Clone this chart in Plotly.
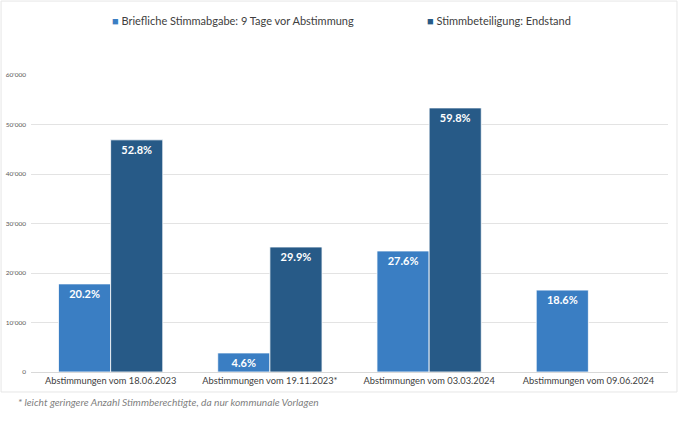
import plotly.graph_objects as go

categories = ["Abstimmungen vom 18.06.2023", "Abstimmungen vom 19.11.2023*",
              "Abstimmungen vom 03.03.2024", "Abstimmungen vom 09.06.2024"]
series_names = ["Briefliche Stimmabgabe: 9 Tage vor Abstimmung", "Stimmbeteiligung: Endstand"]
brieflich_values = [17800, 3850, 24450, 16550]
brieflich_labels = ["20.2%", "4.6%", "27.6%", "18.6%"]
endstand_values = [46900, 25250, 53350, None]
endstand_labels = ["52.8%", "29.9%", "59.8%", ""]
y_ticks = [0, 10000, 20000, 30000, 40000, 50000, 60000]
footnote = "* leicht geringere Anzahl Stimmberechtigte, da nur kommunale Vorlagen"

colors = ["#3a7ec3", "#275a87"]
FONT = "Lato"

fig = go.Figure()
for name, vals, labels, col in [(series_names[0], brieflich_values, brieflich_labels, colors[0]),
                                (series_names[1], endstand_values, endstand_labels, colors[1])]:
    fig.add_trace(go.Bar(
        x=categories, y=vals, name=name, text=labels,
        textposition="inside", insidetextanchor="end", constraintext="none",
        textfont=dict(family=FONT, size=11, color="white", weight="bold"),
        marker=dict(color=col, line=dict(color="white", width=0.8)),
        showlegend=False,
    ))

# legend drawn as text annotations (coloured square + series name)
legend_x = [0.124, 0.6185]
annotations = []
for name, col, lx in zip(series_names, colors, legend_x):
    annotations.append(dict(
        text=f"<span style='color:{col}'>■</span> {name}",
        xref="paper", yref="paper", x=lx, y=1.182, xanchor="left", yanchor="middle",
        showarrow=False, font=dict(family=FONT, size=11, color="#404040")))
annotations.append(dict(text=footnote, xref="paper", yref="paper", x=-0.0235, y=-0.101,
                        xanchor="left", yanchor="middle", showarrow=False,
                        font=dict(family=FONT, size=10.2, color="#7f7f7f", style="italic")))

fig.update_layout(
    width=680, height=436,
    margin=dict(l=31, r=12, t=75, b=64),
    paper_bgcolor="white", plot_bgcolor="white",
    barmode="group", bargap=0.345, bargroupgap=0,
    separators=".'",
    showlegend=False,
    font=dict(family=FONT, color="#404040"),
    xaxis=dict(showgrid=False, showline=True, linecolor="#d9d9d9", linewidth=1,
               ticks="", tickangle=0, automargin=False,
               tickfont=dict(family=FONT, size=9.3, color="#404040")),
    yaxis=dict(range=[0, 60000], tickvals=y_ticks, tickformat=",d",
               showgrid=True, gridcolor="#e3e3e3", gridwidth=1, zeroline=False,
               ticks="", ticklabelstandoff=4, automargin=False,
               tickfont=dict(family=FONT, size=6.5, color="#595959")),
    annotations=annotations,
    shapes=[dict(type="rect", xref="paper", yref="paper", x0=-0.047, x1=1.0141,
                 y0=-0.0673, y1=1.249, line=dict(color="#e6e6e6", width=1))],
)

fig.write_html("out.html", config={"displayModeBar": False},
               post_script="document.body.style.margin='0';document.body.style.overflow='hidden';")
